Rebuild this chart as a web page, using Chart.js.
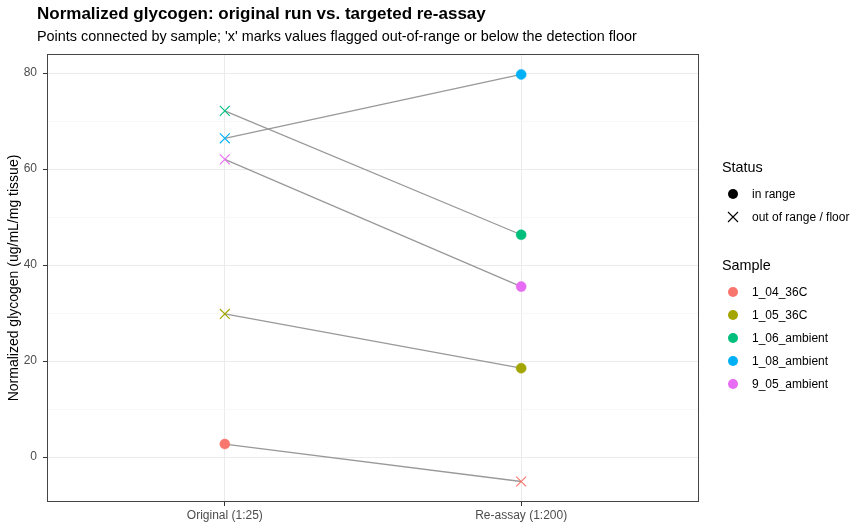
<!DOCTYPE html>
<html lang="en">
<head>
    <meta charset="UTF-8">
    <title>Normalized glycogen</title>
    <style>
        body {
            margin: 0;
            background: #ffffff;
            font-family: 'Liberation Sans', Arial, sans-serif;
        }
        .wrap {
            position: relative;
            width: 864px;
            height: 528px;
        }
        canvas {
            position: absolute;
            left: 0;
            top: 0;
        }
        .title {
            position: absolute;
            left: 37px;
            top: 4px;
            font-size: 17px;
            font-weight: bold;
            color: #000;
        }
        .subtitle {
            position: absolute;
            left: 37px;
            top: 28px;
            font-size: 14.4px;
            color: #000;
        }
        .legend-title {
            position: absolute;
            left: 722px;
            font-size: 14.4px;
            color: #000;
        }
        .legend-item {
            position: absolute;
            left: 727px;
            height: 14px;
            font-size: 12px;
            color: #000;
            display: flex;
            align-items: center;
        }
        .legend-item .key {
            width: 12px;
            height: 12px;
            margin-right: 13px;
            display: flex;
            align-items: center;
            justify-content: center;
        }
        .dot {
            width: 10px;
            height: 10px;
            border-radius: 50%;
        }
    </style>
    <script src="https://cdn.jsdelivr.net/npm/chart.js"></script>
</head>
<body>
<div class="wrap">
    <canvas id="chart" width="864" height="528"></canvas>
    <div class="title">Normalized glycogen: original run vs. targeted re-assay</div>
    <div class="subtitle">Points connected by sample; 'x' marks values flagged out-of-range or below the detection floor</div>
    <div id="legend"></div>
</div>

<script>
    // Data
    const samples = ['1_04_36C', '1_05_36C', '1_06_ambient', '1_08_ambient', '9_05_ambient'];
    const runLabels = ['Original (1:25)', 'Re-assay (1:200)'];
    const originalValues = [2.7, 29.8, 72.1, 66.4, 62.0];
    const reassayValues = [-5.1, 18.5, 46.3, 79.7, 35.5];
    const originalFlagged = [false, true, true, true, true];
    const reassayFlagged = [true, false, false, false, false];
    const yTicks = [0, 10, 20, 30, 40, 50, 60, 70, 80];

    const sampleColors = ['#F8766D', '#A3A500', '#00BF7D', '#00B0F6', '#E76BF3'];

    // Connecting lines, one per sample
    const lineSets = samples.map((s, i) => ({
        type: 'line',
        label: s + ' line',
        data: [{ x: 0, y: originalValues[i] }, { x: 1, y: reassayValues[i] }],
        borderColor: '#999999',
        borderWidth: 1.3,
        pointRadius: 0,
        order: 2
    }));

    // Points, styled by status
    const pointSets = samples.map((s, i) => {
        const flags = [originalFlagged[i], reassayFlagged[i]];
        return {
            type: 'scatter',
            label: s,
            data: [{ x: 0, y: originalValues[i] }, { x: 1, y: reassayValues[i] }],
            backgroundColor: sampleColors[i],
            borderColor: sampleColors[i],
            pointStyle: flags.map(f => f ? 'crossRot' : 'circle'),
            pointRadius: flags.map(f => f ? 7 : 5),
            pointBorderWidth: flags.map(f => f ? 1.1 : 0.5),
            order: 1
        };
    });

    // Full panel border like ggplot
    const panelBorder = {
        id: 'panelBorder',
        afterDatasetsDraw(chart) {
            const a = chart.chartArea;
            const ctx = chart.ctx;
            ctx.save();
            ctx.strokeStyle = '#444444';
            ctx.lineWidth = 1;
            ctx.strokeRect(a.left + 0.5, a.top + 0.5, a.right - a.left - 1, a.bottom - a.top - 1);
            ctx.restore();
        }
    };

    new Chart(document.getElementById('chart').getContext('2d'), {
        data: { datasets: [...lineSets, ...pointSets] },
        options: {
            responsive: false,
            animation: false,
            layout: { padding: { top: 54, right: 165, left: 6, bottom: 0 } },
            plugins: {
                legend: { display: false },
                tooltip: { enabled: false }
            },
            scales: {
                x: {
                    type: 'linear',
                    min: -0.6,
                    max: 1.6,
                    afterBuildTicks: scale => { scale.ticks = [{ value: 0 }, { value: 1 }]; },
                    afterFit: scale => { scale.height = 26; },
                    ticks: {
                        callback: v => runLabels[v],
                        font: { family: 'Liberation Sans', size: 12 },
                        color: '#4d4d4d',
                        padding: 2,
                        maxRotation: 0
                    },
                    grid: {
                        color: '#ebebeb',
                        lineWidth: 1,
                        tickColor: '#333333',
                        tickLength: 4
                    },
                    border: { display: false }
                },
                y: {
                    type: 'linear',
                    min: -9.375,
                    max: 83.96,
                    afterBuildTicks: scale => { scale.ticks = yTicks.map(v => ({ value: v })); },
                    afterFit: scale => { scale.width = 41; },
                    ticks: {
                        callback: v => (v % 20 === 0 ? String(v) : ''),
                        font: { family: 'Liberation Sans', size: 12 },
                        color: '#4d4d4d',
                        padding: 6
                    },
                    grid: {
                        color: c => (c.tick && c.tick.value % 20 === 0 ? '#ebebeb' : '#f3f3f3'),
                        lineWidth: c => (c.tick && c.tick.value % 20 === 0 ? 1 : 0.6),
                        tickColor: c => (c.tick && c.tick.value % 20 === 0 ? '#333333' : 'rgba(0,0,0,0)'),
                        tickLength: 4
                    },
                    border: { display: false },
                    title: {
                        display: true,
                        text: 'Normalized glycogen (ug/mL/mg tissue)',
                        font: { family: 'Liberation Sans', size: 14 },
                        color: '#000000',
                        padding: { top: 0, bottom: 0 }
                    }
                }
            }
        },
        plugins: [panelBorder]
    });

    // Legend built as HTML
    const legend = document.getElementById('legend');
    function addTitle(text, cy) {
        const d = document.createElement('div');
        d.className = 'legend-title';
        d.style.top = (cy - 9) + 'px';
        d.textContent = text;
        legend.appendChild(d);
    }
    function addItem(keyHtml, text, cy) {
        const d = document.createElement('div');
        d.className = 'legend-item';
        d.style.top = (cy - 7) + 'px';
        d.innerHTML = '<span class="key">' + keyHtml + '</span><span>' + text + '</span>';
        legend.appendChild(d);
    }
    addTitle('Status', 168);
    addItem('<span class="dot" style="background:#000"></span>', 'in range', 194);
    addItem('<svg width="12" height="12"><path d="M1 1 L11 11 M11 1 L1 11" stroke="#000" stroke-width="1.1"/></svg>',
        'out of range / floor', 217);
    addTitle('Sample', 266);
    const sampleY = [292, 315, 338, 361, 384];
    samples.forEach((s, i) => {
        addItem('<span class="dot" style="background:' + sampleColors[i] + '"></span>', s, sampleY[i]);
    });
</script>
</body>
</html>
